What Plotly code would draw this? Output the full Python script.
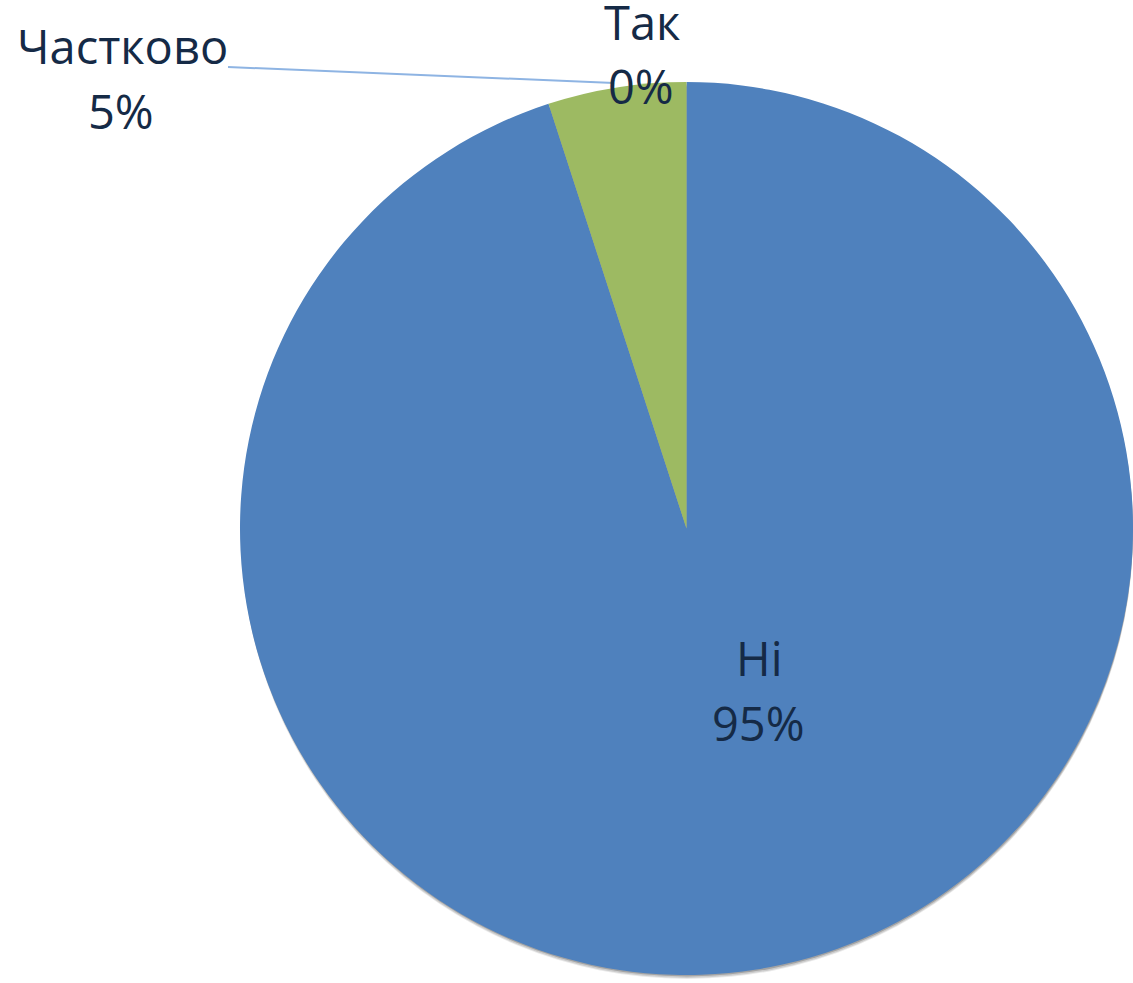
import plotly.graph_objects as go

# answers, in clockwise order from 12 o'clock
labels = ["Ні", "Частково", "Так"]
values = [19, 1, 0]
colors = ["#4F81BD", "#9DBA62", "#C0504D"]

W, H = 1133, 983
text_color = "#152A46"
font_family = "Open Sans, Noto Sans, sans-serif"

total = sum(values)
shares = [f"{round(v / total * 100)}%" for v in values]

# pie box in page pixels: left, right, top, bottom
left, right, top, bottom = 240, 1133, 77, 980

fig = go.Figure()

# soft drop shadow under the pie
for dy, alpha in [(6, 0.10), (4, 0.15), (2, 0.25)]:
    fig.add_trace(
        go.Pie(
            values=[total],
            marker=dict(colors=[f"rgba(40,40,40,{alpha})"], line=dict(width=0)),
            textinfo="none",
            hoverinfo="skip",
            showlegend=False,
            domain=dict(x=[(left + 1) / W, min(right + 1, W) / W],
                        y=[max(0, 1 - (bottom + dy) / H), 1 - (top + dy) / H]),
        )
    )

fig.add_trace(
    go.Pie(
        labels=labels,
        values=values,
        sort=False,
        direction="clockwise",
        rotation=0,
        marker=dict(colors=colors, line=dict(width=0)),
        textinfo="none",
        showlegend=False,
        domain=dict(x=[left / W, right / W], y=[1 - bottom / H, 1 - top / H]),
    )
)

# label line centres (page pixels): name line, share line
label_pos = {
    "Ні": ((759, 662), (758, 727)),
    "Частково": ((122, 50), (121, 115)),
    "Так": ((642, 26), (641, 90)),
}
for lab, share in zip(labels, shares):
    for txt, (px, py) in zip([lab, share], label_pos[lab]):
        fig.add_annotation(
            x=px / W, y=1 - (py - 4) / H, xref="paper", yref="paper",
            text=txt, showarrow=False,
            font=dict(family=font_family, size=47, color=text_color),
            xanchor="center", yanchor="middle",
        )

# leader line for "Частково"
fig.add_shape(
    type="line", xref="paper", yref="paper",
    x0=228 / W, y0=1 - 67 / H, x1=614 / W, y1=1 - 83 / H,
    line=dict(color="#8EB4E3", width=2),
)

fig.update_layout(
    width=W,
    height=H,
    margin=dict(l=0, r=0, t=0, b=0),
    paper_bgcolor="white",
    plot_bgcolor="white",
)

fig.write_html(
    "out.html",
    config={"displayModeBar": False},
    post_script="document.body.style.margin='0';document.body.style.overflow='hidden';",
)
